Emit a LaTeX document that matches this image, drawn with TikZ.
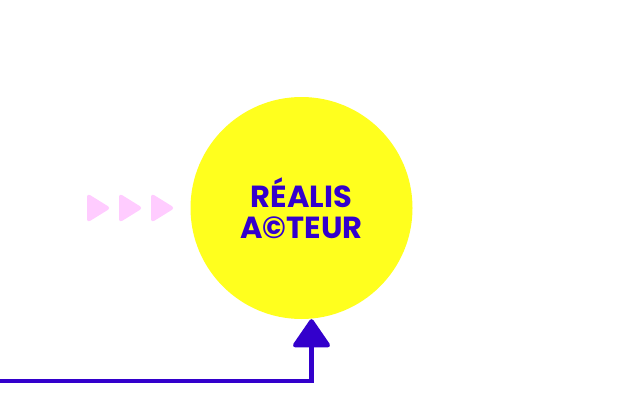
\documentclass[tikz,border=0pt]{standalone}
\usepackage{fontspec}
\setmainfont{Poppins}
\usetikzlibrary{arrows.meta}
\definecolor{ink}{HTML}{3300CC}
\definecolor{sun}{HTML}{FFFF1E}
\definecolor{pinkish}{HTML}{FFCCFF}
\tikzset{
  bubble/.style={circle, fill=sun, minimum size=222pt, inner sep=0pt, text=ink,
    align=center, font=\fontsize{30.5}{31}\selectfont\bfseries},
  link/.style={draw=ink, line width=4.5pt, -{Triangle[width=40pt,length=30pt,round]}},
  chevron/.style={fill=pinkish, draw=pinkish, line width=2pt, rounded corners=2pt}
}
\begin{document}
\begin{tikzpicture}[x=1pt,y=1pt]
\useasboundingbox (0,0) rectangle (623,416);
\node[bubble] (circ) at (301.5,208) {RÉALIS\\A©TEUR};
\coordinate (start) at (0,35);
\draw[link] (start) -| ([xshift=10pt]circ.south);
\foreach \x [count=\i] in {88,120,152} {
  \path[chevron] (\x,221) -- (\x+21,208) -- (\x,195) -- cycle;
}
\end{tikzpicture}
\end{document}
